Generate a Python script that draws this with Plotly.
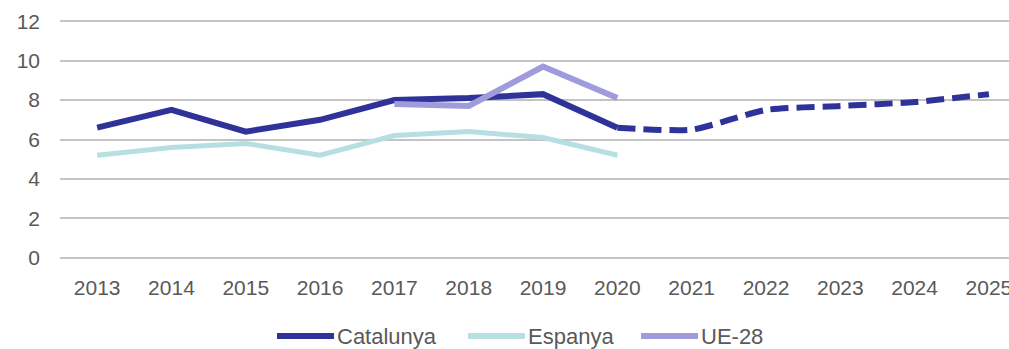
import plotly.graph_objects as go

# Years shown on the category axis
years = ["2013", "2014", "2015", "2016", "2017", "2018", "2019",
         "2020", "2021", "2022", "2023", "2024", "2025"]

# Observed series
catalunya = [6.6, 7.5, 6.4, 7.0, 8.0, 8.1, 8.3, 6.6]
espanya = [5.2, 5.6, 5.8, 5.2, 6.2, 6.4, 6.1, 5.2]
ue28_years = ["2017", "2018", "2019", "2020"]
ue28 = [7.8, 7.7, 9.7, 8.1]

# Catalunya projection (starts from the last observed year)
proj_years = ["2020", "2021", "2022", "2023", "2024", "2025"]
catalunya_proj = [6.6, 6.5, 7.5, 7.7, 7.9, 8.3]

y_ticks = [0, 2, 4, 6, 8, 10, 12]

C_CAT = "#2F3399"
C_ESP = "#B6DFE2"
C_UE = "#9F9BDC"
TXT = "#595959"
FONT = "Liberation Sans, Arial, sans-serif"

W, H = 1009, 349
ML, MR, MT, MB = 60, 0, 20, 90

fig = go.Figure()
fig.add_trace(go.Scatter(x=years[:len(espanya)], y=espanya, mode="lines",
                         line=dict(color=C_ESP, width=5), name="Espanya"))
fig.add_trace(go.Scatter(x=proj_years, y=catalunya_proj, mode="lines",
                         line=dict(color=C_CAT, width=6, dash="18px,8px",
                                   shape="spline", smoothing=0.6),
                         showlegend=False))
fig.add_trace(go.Scatter(x=years[:len(catalunya)], y=catalunya, mode="lines",
                         line=dict(color=C_CAT, width=6), name="Catalunya"))
fig.add_trace(go.Scatter(x=ue28_years, y=ue28, mode="lines",
                         line=dict(color=C_UE, width=6), name="UE-28"))

fig.update_layout(
    width=W, height=H,
    margin=dict(l=ML, r=MR, t=MT, b=MB),
    paper_bgcolor="white", plot_bgcolor="white",
    showlegend=False,
    font=dict(family=FONT, color=TXT, size=21),
)
fig.update_xaxes(
    type="category", categoryorder="array", categoryarray=years,
    range=[-0.5, 12.27], showgrid=False, zeroline=False, showline=False,
    ticks="", ticklabelstandoff=14, automargin=False,
    tickfont=dict(family=FONT, color=TXT, size=21),
)
fig.update_yaxes(
    range=[-0.06, 12.06], tickvals=y_ticks, showgrid=True,
    gridcolor="#C4C4C4", gridwidth=2, zeroline=False, showline=False,
    ticks="", ticklabelstandoff=19, automargin=False,
    tickfont=dict(family=FONT, color=TXT, size=21),
)

# Legend drawn below the axis: a line sample followed by its label
plot_w = W - ML - MR
plot_h = H - MT - MB


def px_x(px):
    return (px - ML) / plot_w


def px_y(py):
    return (H - MB - py) / plot_h


legend_items = [("Catalunya", C_CAT, 277), ("Espanya", C_ESP, 468), ("UE-28", C_UE, 641)]
leg_y = 336
for label, color, x0 in legend_items:
    fig.add_shape(type="line", xref="paper", yref="paper",
                  x0=px_x(x0), x1=px_x(x0 + 57), y0=px_y(leg_y), y1=px_y(leg_y),
                  line=dict(color=color, width=6))
    fig.add_annotation(xref="paper", yref="paper", x=px_x(x0 + 58), y=px_y(leg_y),
                       text=label, showarrow=False, xanchor="left", yanchor="middle",
                       font=dict(family=FONT, color=TXT, size=22))

fig.write_html("out.html")
